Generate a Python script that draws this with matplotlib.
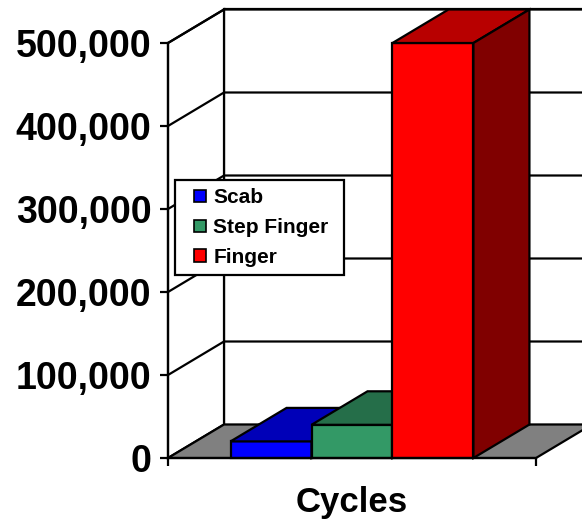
import matplotlib
matplotlib.use("Agg")
import matplotlib.pyplot as plt
from matplotlib.patches import Polygon, Patch, Rectangle
from matplotlib.legend_handler import HandlerPatch
from matplotlib.ticker import FuncFormatter

# data
category = "Cycles"
series = ["Scab", "Step Finger", "Finger"]
values = [20000, 40000, 500000]
colors = ["#0000FF", "#339966", "#FF0000"]
yticks = [0, 100000, 200000, 300000, 400000, 500000]

plt.rcParams['font.family'] = ['Liberation Sans', 'DejaVu Sans']
plt.rcParams['font.weight'] = 'bold'

fig = plt.figure(figsize=(5.82, 5.19), dpi=100)
ax = fig.add_axes([0, 0, 1, 1])

# scale: floor front spans x 0..1, 83 px per 100k
px_x = 368.0
px_y = 83.0 / 100000
ax.set_xlim(-168 / px_x, 414 / px_x)
ax.set_ylim(-61 / px_y, 458 / px_y)

dx = 56 / px_x          # depth offset, x units
dy = 33.5 / px_y        # depth offset, value units
ymax = yticks[-1]


def shade(c, f):
    r, g, b = matplotlib.colors.to_rgb(c)
    return (r * f, g * f, b * f)


def poly(pts, fc, z):
    ax.add_patch(Polygon(pts, closed=True, facecolor=fc, edgecolor='black',
                         linewidth=1.6, joinstyle='miter', zorder=z))


# walls
poly([(dx, dy), (1 + dx, dy), (1 + dx, ymax + dy), (dx, ymax + dy)], 'white', 1)
poly([(0, 0), (dx, dy), (dx, ymax + dy), (0, ymax)], 'white', 1)
for v in yticks[1:]:
    ax.plot([0, dx, 1 + dx], [v, v + dy, v + dy], color='black', lw=1.6, zorder=2)

# floor
poly([(0, 0), (1, 0), (1 + dx, dy), (dx, dy)], '#808080', 3)

# bars
gap = 0.17
bw = (1 - 2 * gap) / len(values)
for i, (v, c) in enumerate(zip(values, colors)):
    x0 = gap + i * bw
    z = 4 + i
    poly([(x0, 0), (x0 + bw, 0), (x0 + bw, v), (x0, v)], c, z)
    poly([(x0, v), (x0 + bw, v), (x0 + bw + dx, v + dy), (x0 + dx, v + dy)], shade(c, 0.72), z)
    poly([(x0 + bw, 0), (x0 + bw + dx, dy), (x0 + bw + dx, v + dy), (x0 + bw, v)], shade(c, 0.5), z)

# axes
for s in ['top', 'right']:
    ax.spines[s].set_visible(False)
ax.spines['left'].set_position(('data', 0))
ax.spines['left'].set_bounds(0, ymax)
ax.spines['bottom'].set_position(('data', 0))
ax.spines['bottom'].set_bounds(0, 1)
for s in ['left', 'bottom']:
    ax.spines[s].set_linewidth(1.6)
    ax.spines[s].set_zorder(10)

ax.set_yticks(yticks)
ax.yaxis.set_major_formatter(FuncFormatter(lambda v, p: f"{int(v):,}"))
ax.tick_params(axis='y', direction='out', length=6, width=1.6, pad=6,
               labelsize=27)
ax.set_xticks([0.5])
ax.set_xticklabels([category])
ax.set_xticks([0, 1], minor=True)
ax.tick_params(axis='x', which='major', length=0, pad=20, labelsize=25)
ax.tick_params(axis='x', which='minor', direction='out', length=6, width=1.6)
for lab in ax.get_xticklabels() + ax.get_yticklabels():
    lab.set_fontweight('bold')


def square(legend, orig_handle, xdescent, ydescent, width, height, fontsize):
    s = 9.0
    return Rectangle((-xdescent + width - s, -ydescent + (height - s) / 2), s, s)


handles = [Patch(facecolor=c, edgecolor='black', linewidth=1.2) for c in colors]
leg = ax.legend(handles, series, loc='upper left', mode='expand',
                bbox_to_anchor=(175 / 582, 1 - 180 / 519 - 0.1, 169 / 582, 0.1),
                bbox_transform=fig.transFigure, borderaxespad=0,
                fancybox=False, framealpha=1, edgecolor='black',
                prop={'size': 15, 'weight': 'bold'},
                handler_map={Patch: HandlerPatch(patch_func=square)},
                handlelength=1.1, handleheight=0.7, handletextpad=0.34,
                labelspacing=0.52, borderpad=0.4)
leg.get_frame().set_linewidth(1.6)
leg.set_zorder(20)

fig.savefig("out.png", dpi=100)
